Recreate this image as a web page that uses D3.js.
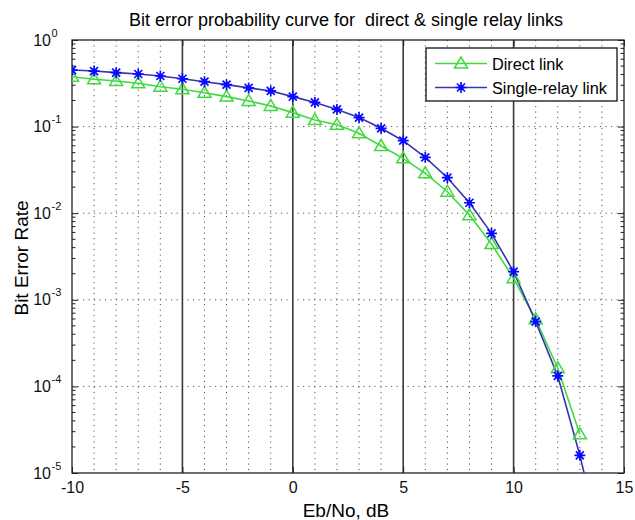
<!DOCTYPE html>
<html>
<head>
<meta charset="utf-8">
<script src="https://cdn.jsdelivr.net/npm/d3@7"></script>
<style>
  body { margin: 0; background: #fff; }
  svg { display: block; font-family: "Liberation Sans", Arial, sans-serif; }
</style>
</head>
<body>
<svg id="chart" width="635" height="520"></svg>
<script>
// Eb/No values (dB)
const ebnoDirect = [-10, -9, -8, -7, -6, -5, -4, -3, -2, -1, 0, 1, 2, 3, 4, 5, 6, 7, 8, 9, 10, 11, 12, 13];
const berDirect = [0.377, 0.352, 0.336, 0.316, 0.289, 0.27, 0.246, 0.222, 0.198, 0.173, 0.145, 0.119, 0.105,
  0.0836, 0.0597, 0.043, 0.0289, 0.0177, 0.0095, 0.0044, 0.00177, 5.96e-4, 1.62e-4, 2.8e-5];

const ebnoRelay = [-10, -9, -8, -7, -6, -5, -4, -3, -2, -1, 0, 1, 2, 3, 4, 5, 6, 7, 8, 9, 10, 11, 12, 13, 14];
const berRelay = [0.45, 0.438, 0.42, 0.405, 0.384, 0.357, 0.33, 0.305, 0.28, 0.258, 0.222, 0.19, 0.158,
  0.127, 0.0955, 0.0687, 0.0442, 0.0257, 0.0132, 0.00585, 0.00211, 5.6e-4, 1.32e-4, 1.6e-5, 1.4e-6];

const xTicks = [-10, -5, 0, 5, 10, 15];
const yTicks = [1, 1e-1, 1e-2, 1e-3, 1e-4, 1e-5];
const yExponents = ['0', '-1', '-2', '-3', '-4', '-5'];

const seriesNames = ['Direct link', 'Single-relay link'];

const margin = {top: 40, right: 11, bottom: 47, left: 72};
const width = 635, height = 520;
const innerW = width - margin.left - margin.right;
const innerH = height - margin.top - margin.bottom;

const greenColor = '#40da40';
const blueLine = '#3434b4';
const blueMark = '#0a0aff';

const svg = d3.select('#chart');

svg.append('text')
  .attr('x', 346).attr('y', 26)
  .attr('text-anchor', 'middle')
  .attr('font-size', 18)
  .style('white-space', 'pre')
  .text('Bit error probability curve for  direct & single relay links');

const g = svg.append('g')
  .attr('transform', `translate(${margin.left},${margin.top})`);

const xScale = d3.scaleLinear().domain([-10, 15]).range([0, innerW]);
const yScale = d3.scaleLog().domain([1e-5, 1]).range([innerH, 0]);

// clip for lines running off the axes
g.append('clipPath').attr('id', 'plot-clip')
  .append('rect').attr('width', innerW).attr('height', innerH);

// dotted grid at each integer (not multiple of 5)
const minorX = d3.range(-9, 15).filter(d => d % 5 !== 0);
g.append('g').attr('id', 'grid-x-minor')
  .selectAll('line').data(minorX).join('line')
  .attr('x1', d => xScale(d)).attr('x2', d => xScale(d))
  .attr('y1', 0).attr('y2', innerH)
  .attr('stroke', '#555').attr('stroke-width', 1)
  .attr('stroke-dasharray', '1.2,4.3');

// horizontal dotted grid at decades
g.append('g').attr('id', 'grid-y')
  .selectAll('line').data(yTicks.slice(1, -1)).join('line')
  .attr('x1', 0).attr('x2', innerW)
  .attr('y1', d => yScale(d)).attr('y2', d => yScale(d))
  .attr('stroke', '#555').attr('stroke-width', 1)
  .attr('stroke-dasharray', '1.2,4.3');

// solid lines at multiples of 5
g.append('g').attr('id', 'grid-x-major')
  .selectAll('line').data(xTicks.slice(1, -1)).join('line')
  .attr('x1', d => xScale(d)).attr('x2', d => xScale(d))
  .attr('y1', 0).attr('y2', innerH)
  .attr('stroke', '#3a3a3a').attr('stroke-width', 1.6);

// axes
const xAxis = g.append('g')
  .attr('id', 'x-axis')
  .attr('transform', `translate(0,${innerH})`)
  .call(d3.axisBottom(xScale).tickValues(xTicks).tickSize(-6).tickPadding(12).tickFormat(d => String(d)));

const yAxis = g.append('g')
  .attr('id', 'y-axis')
  .call(d3.axisLeft(yScale).tickValues(yTicks).tickSize(-6));

[xAxis, yAxis].forEach(ax => {
  ax.attr('font-family', null).attr('font-size', null);
  ax.select('.domain').remove();
  ax.selectAll('line').attr('stroke', '#222');
  ax.selectAll('text').attr('font-size', 16).attr('fill', '#111');
});
xAxis.selectAll('text').attr('dy', '0.5em');

// y tick labels: 10 with superscript exponent
yAxis.selectAll('.tick text').remove();
yAxis.selectAll('.tick').each(function (d, i) {
  d3.select(this).append('text')
    .attr('x', -21).attr('y', 5)
    .attr('fill', '#111')
    .attr('font-size', 16)
    .attr('text-anchor', 'end')
    .text('10');
  d3.select(this).append('text')
    .attr('x', -20.5).attr('y', -4)
    .attr('fill', '#111')
    .attr('font-size', 11)
    .attr('text-anchor', 'start')
    .text(yExponents[i]);
});

// top and right axes (ticks only)
g.append('g')
  .call(d3.axisTop(xScale).tickValues(xTicks).tickSize(-6).tickFormat(''))
  .call(a => a.select('.domain').remove())
  .call(a => a.selectAll('text').remove())
  .selectAll('line').attr('stroke', '#222');
g.append('g')
  .attr('transform', `translate(${innerW},0)`)
  .call(d3.axisRight(yScale).tickValues(yTicks).tickSize(-6).tickFormat(''))
  .call(a => a.select('.domain').remove())
  .call(a => a.selectAll('text').remove())
  .selectAll('line').attr('stroke', '#222');

// log minor ticks on left and right
const minorY = [];
for (let e = -5; e < 0; e++) {
  for (let m = 2; m <= 9; m++) minorY.push(m * Math.pow(10, e));
}
g.append('g').attr('id', 'y-minor')
  .selectAll('path').data(minorY).join('path')
  .attr('d', d => `M0,${yScale(d)}h3.5M${innerW},${yScale(d)}h-3.5`)
  .attr('stroke', '#222').attr('stroke-width', 1);

// frame
g.append('rect')
  .attr('width', innerW).attr('height', innerH)
  .attr('fill', 'none').attr('stroke', '#222').attr('stroke-width', 1.3);

// lines
const line = d3.line().x(d => xScale(d[0])).y(d => yScale(d[1]));
const directPts = ebnoDirect.map((x, i) => [x, berDirect[i]]);
const relayPts = ebnoRelay.map((x, i) => [x, berRelay[i]]);

const plot = g.append('g').attr('clip-path', 'url(#plot-clip)');

const trianglePath = 'M0,-6.5L6.5,4.5L-6.5,4.5Z';
const starPath = 'M-5.5,0H5.5M0,-5.5V5.5M-4,-4L4,4M-4,4L4,-4';

plot.append('path').datum(directPts)
  .attr('d', line).attr('fill', 'none')
  .attr('stroke', greenColor).attr('stroke-width', 1.6);
plot.append('path').datum(relayPts)
  .attr('d', line).attr('fill', 'none')
  .attr('stroke', blueLine).attr('stroke-width', 1.6);

plot.append('g').selectAll('path').data(directPts).join('path')
  .attr('transform', d => `translate(${xScale(d[0])},${yScale(d[1])})`)
  .attr('d', trianglePath)
  .attr('fill', 'none').attr('stroke', greenColor).attr('stroke-width', 1.5);

plot.append('g').selectAll('g').data(relayPts).join('g')
  .attr('transform', d => `translate(${xScale(d[0])},${yScale(d[1])})`)
  .call(s => s.append('path').attr('d', starPath)
    .attr('stroke', blueMark).attr('stroke-width', 1.7).attr('fill', 'none'))
  .call(s => s.append('circle').attr('r', 2.6).attr('fill', blueMark));

// axis labels
svg.append('text')
  .attr('x', 346).attr('y', 517)
  .attr('text-anchor', 'middle')
  .attr('font-size', 19)
  .text('Eb/No, dB');

svg.append('text')
  .attr('transform', 'translate(28,258) rotate(-90)')
  .attr('text-anchor', 'middle')
  .attr('font-size', 19)
  .text('Bit Error Rate');

// legend
const legend = svg.append('g').attr('transform', 'translate(426,48)');
legend.append('rect')
  .attr('width', 191).attr('height', 53)
  .attr('fill', '#fff').attr('stroke', '#111').attr('stroke-width', 1.3);

const legendItems = [
  {name: seriesNames[0], color: greenColor, marker: 'tri'},
  {name: seriesNames[1], color: blueLine, marker: 'star'}
];
legendItems.forEach((item, i) => {
  const y = 15.5 + i * 24;
  const row = legend.append('g').attr('transform', `translate(0,${y})`);
  row.append('line')
    .attr('x1', 9).attr('x2', 61).attr('y1', 0).attr('y2', 0)
    .attr('stroke', item.color).attr('stroke-width', 1.6);
  if (item.marker === 'tri') {
    row.append('path').attr('transform', 'translate(35,0)')
      .attr('d', trianglePath).attr('fill', 'none')
      .attr('stroke', greenColor).attr('stroke-width', 1.5);
  } else {
    row.append('path').attr('transform', 'translate(35,0)')
      .attr('d', starPath).attr('fill', 'none')
      .attr('stroke', blueMark).attr('stroke-width', 1.7);
    row.append('circle').attr('cx', 35).attr('r', 2.6).attr('fill', blueMark);
  }
  row.append('text')
    .attr('x', 66).attr('y', 6)
    .attr('font-size', 16.3)
    .text(item.name);
});
</script>
</body>
</html>
